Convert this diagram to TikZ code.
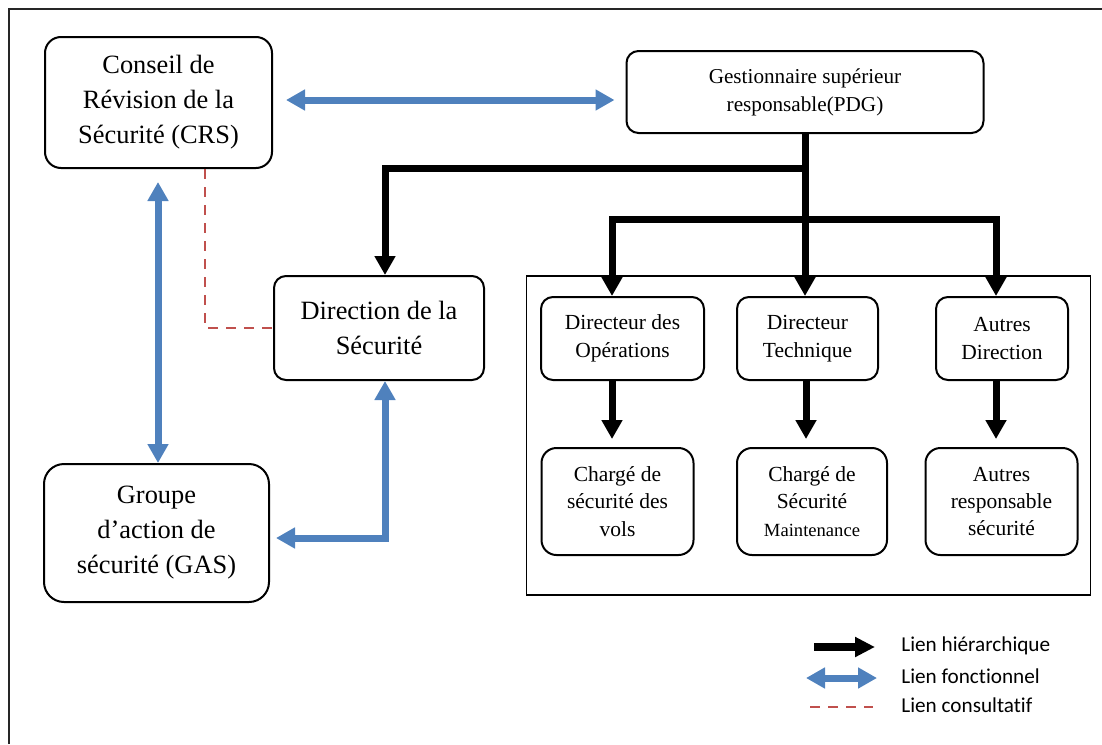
\documentclass[tikz,border=0pt]{standalone}
\usepackage{fontspec}
\setmainfont{Liberation Serif}
\newfontfamily\legfont[Ligatures={NoCommon}]{Carlito}
\usetikzlibrary{arrows.meta}
\definecolor{fblue}{HTML}{4F81BD}
\definecolor{cred}{HTML}{C0504D}
\begin{document}
\begin{tikzpicture}[x=0.5pt,y=-0.5pt,
  box/.style={draw, line width=1pt, rounded corners=6pt, align=center, inner sep=0pt},
  big/.style={box, font=\fontsize{13.2}{17.5}\selectfont},
  small/.style={box, font=\fontsize{10.75}{13.75}\selectfont},
  hier/.style={line width=3.5pt, line join=miter, -{Triangle[length=9.5pt,width=10pt]}},
  funct/.style={line width=3.5pt, fblue, line join=miter, {Triangle[length=9.5pt,width=10pt]}-{Triangle[length=9.5pt,width=10pt]}},
  consult/.style={cred, line width=1.4pt, dash pattern=on 5pt off 4pt},
  legtext/.style={anchor=west, font=\legfont\fontsize{10.6}{12}\selectfont, inner sep=0pt}
]
\useasboundingbox (0,0) rectangle (1102,744);
% outer frame
\coordinate (fa) at (9,744);
\coordinate (fb) at (9,9);
\coordinate (fc) at (1102,9);
\draw[line width=0.8pt, black!85] (fa) -- (fb) -- (fc);

% nodes
\node[big, rounded corners=8pt, minimum width=113.5pt, minimum height=65.5pt] (crs) at (158.5,102.5) {Conseil de\\Révision de la\\Sécurité (CRS)};
\node[box, font=\fontsize{10.6}{14}\selectfont, minimum width=178.5pt, minimum height=41pt] (pdg) at (805,92) {Gestionnaire supérieur\\responsable(PDG)};
\node[big, minimum width=105pt, minimum height=52pt] (dsec) at (379,328) {Direction de la\\Sécurité};
\node[big, rounded corners=10pt, minimum width=112.5pt, minimum height=69pt] (gas) at (156.5,533) {Groupe\\d’action de\\sécurité (GAS)};

\node[draw, line width=0.8pt, minimum width=282pt, minimum height=159.6pt, inner sep=0pt] (grp) at (808.6,435.3) {};

\node[small, minimum width=81.5pt, minimum height=41.5pt] (dops) at (622.5,338.5) {Directeur des\\Opérations};
\node[small, minimum width=70.5pt, minimum height=41.5pt] (dtech) at (807.5,338.5) {Directeur\\Technique};
\node[small, minimum width=66pt, minimum height=41.5pt] (daut) at (1002,338.5) {Autres\\Direction};

\node[small, rounded corners=7.5pt, minimum width=76pt, minimum height=53.5pt] (cvols) at (617.5,501.5) {Chargé de\\sécurité des\\vols};
\node[small, rounded corners=7.5pt, minimum width=75pt, minimum height=53.5pt] (cmaint) at (812,501.5) {Chargé de\\Sécurité\\{\fontsize{9.3}{13.75}\selectfont Maintenance}};
\node[small, rounded corners=7.5pt, minimum width=76pt, minimum height=53.5pt] (caut) at (1001.5,501.5) {Autres\\responsable\\sécurité};

% helper coordinates
\coordinate (h1) at (0,100);
\coordinate (c0) at (158,0);
\coordinate (m1) at (205,328);
\coordinate (j1) at (805,168);
\coordinate (k1) at (385,168);
\coordinate (k2) at (385,538);
\coordinate (j2) at (805,219);
\coordinate (c1) at (612,0);
\coordinate (c2) at (806,0);
\coordinate (c3) at (996,0);

% functional links
\draw[funct, shorten <=6.5pt, shorten >=5.5pt] (crs.east |- h1) -- (pdg.west |- h1);
\draw[funct, shorten <=6.5pt] (crs.south -| c0) -- (c0 |- gas.north);
\draw[funct, shorten >=3pt] (k2 |- dsec.south) -- (k2) -- (k2 -| gas.east);

% consultative link
\draw[consult] (crs.south -| m1) -- (m1) -- (m1 -| dsec.west);

% hierarchical links
\draw[hier] (pdg.south) -- (pdg.south |- dtech.north);
\draw[hier] (j1) -- (k1) -- (k1 |- dsec.north);
\draw[hier] (j2) -| (c1 |- dops.north);
\draw[hier] (j2) -| (c3 |- daut.north);
\draw[hier, shorten >=4pt] (c1 |- dops.south) -- (c1 |- cvols.north);
\draw[hier, shorten >=4pt] (c2 |- dtech.south) -- (c2 |- cmaint.north);
\draw[hier, shorten >=4pt] (c3 |- daut.south) -- (c3 |- caut.north);

% legend
\coordinate (l1a) at (814,647);
\coordinate (l1b) at (875,647);
\coordinate (l2a) at (806,678);
\coordinate (l2b) at (877,678);
\coordinate (l3a) at (810,707);
\coordinate (l3b) at (873,707);
\draw[line width=4pt, -{Triangle[length=10pt,width=9.5pt]}] (l1a) -- (l1b);
\draw[funct] (l2a) -- (l2b);
\draw[consult] (l3a) -- (l3b);
\node[legtext] (lt1) at (901,646) {Lien hiérarchique};
\node[legtext] (lt2) at (901,676) {Lien fonct\kern0pt ionnel};
\node[legtext] (lt3) at (901,705) {Lien consultat\kern0pt if};
\end{tikzpicture}
\end{document}
